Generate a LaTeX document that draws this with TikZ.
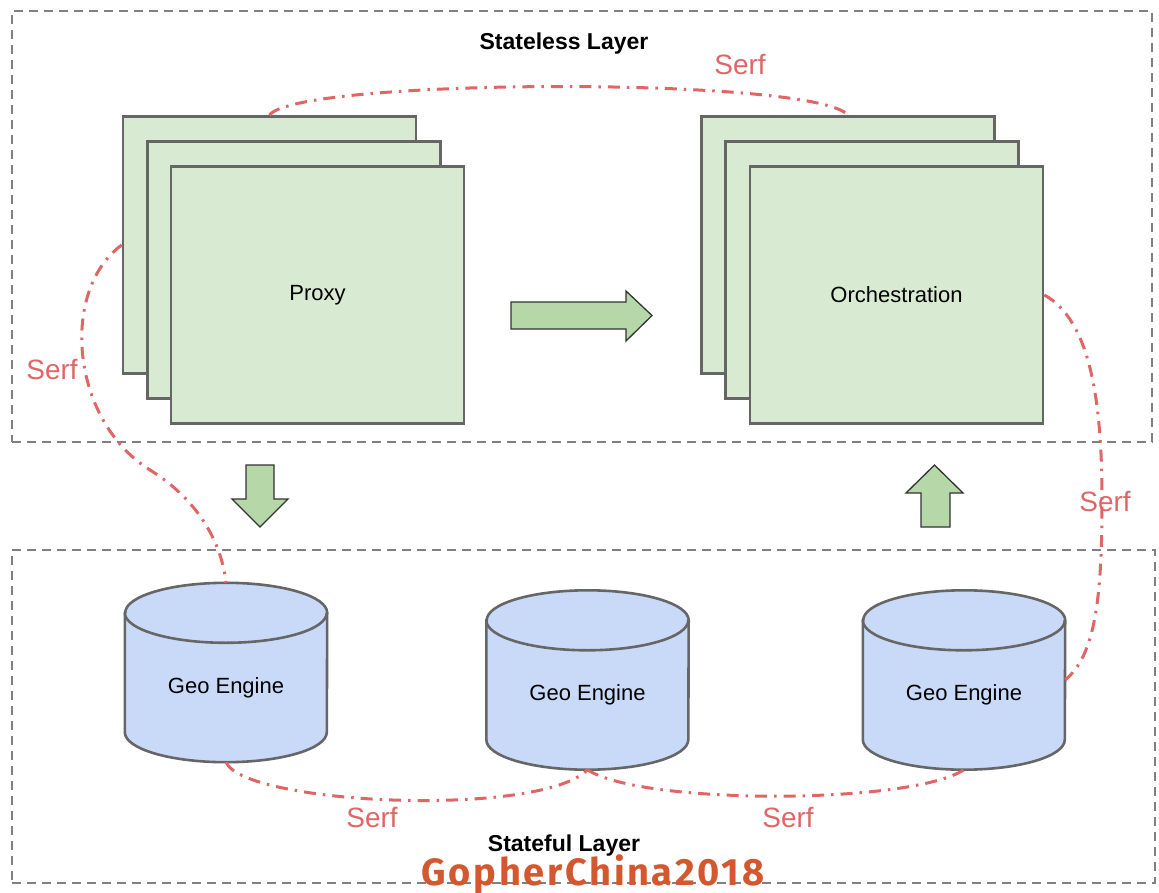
\documentclass[tikz,border=0pt]{standalone}
\usepackage{fontspec}
\setmainfont{Liberation Sans}
\newfontfamily\wmfont[LetterSpace=7]{Fira Sans}
\usepackage{tikz}
\usetikzlibrary{backgrounds}

\definecolor{sheetgreen}{HTML}{D9EAD3}
\definecolor{arrowgreen}{HTML}{B6D7A8}
\definecolor{geoblue}{HTML}{C9DAF8}
\definecolor{edgegray}{HTML}{666666}
\definecolor{layergray}{HTML}{808080}
\definecolor{serfred}{HTML}{E06666}
\definecolor{wmred}{HTML}{D3582F}

\tikzset{
  layer/.style={draw=layergray,line width=2.6pt,dash pattern=on 9pt off 6pt,inner sep=0pt},
  title/.style={anchor=base,font=\bfseries\fontsize{23}{27}\selectfont},
  sheet/.style={draw=edgegray,fill=sheetgreen,line width=2.6pt,minimum width=293pt,minimum height=257pt,inner sep=0pt},
  geobody/.style={minimum width=202pt,minimum height=149pt,inner sep=0pt},
  cyl/.style={draw=edgegray,fill=geoblue,line width=2.6pt},
  blockarrow/.style={draw=black!80,fill=arrowgreen,line width=1.3pt,line join=miter},
  serf/.style={serfred,line width=3pt,dash pattern=on 12pt off 7pt on 2.5pt off 7pt},
  serflabel/.style={text=serfred,font=\fontsize{28}{30}\selectfont}
}

% one database drum, text sits in the body
\newcommand\geocyl[3]{%
  \node[geobody] (#1) at (#2,#3) {Geo Engine};
  \begin{scope}[on background layer]
  \filldraw[cyl] (#1.north west) -- ([yshift=30pt]#1.south west)
    arc[start angle=180,end angle=360,x radius=101pt,y radius=30pt] -- (#1.north east)
    arc[start angle=0,end angle=180,x radius=101pt,y radius=30pt] -- cycle;
  \draw[cyl,fill=none] (#1.north west) arc[start angle=180,end angle=360,x radius=101pt,y radius=30pt];
  \end{scope}}

\begin{document}
\begin{tikzpicture}[x=1pt,y=-1pt,font=\fontsize{22}{26}\selectfont]
\useasboundingbox (0,0) rectangle (1159,893);
% the two layers
\node[layer,minimum width=1140pt,minimum height=431pt] (stateless) at (582,226.5) {};
\node[layer,minimum width=1143pt,minimum height=333pt] (stateful) at (583.5,716.5) {};
\node[title] (statelesstitle) at (564,50) {Stateless Layer};
\node[title] (statefultitle) at (564,851) {Stateful Layer};
% stacked instances
\foreach \n/\x/\y in {proxyback/269.5/245,proxymid/294/270,orchback/848/245,orchmid/872/270}
  \node[sheet] (\n) at (\x,\y) {};
\node[sheet] (proxy) at (317.5,295) {Proxy};
\node[sheet] (orch) at (896.5,295) {Orchestration};
% flow arrows
\draw[blockarrow] (511,302) -- (626,302) -- (626,291) -- (652,315.5) -- (626,341) -- (626,329) -- (511,329) -- cycle;
\draw[blockarrow] (246,465) -- (274,465) -- (274,499) -- (288,499) -- (260,527) -- (232,499) -- (246,499) -- cycle;
\draw[blockarrow] (921,527) -- (950,527) -- (950,493) -- (963,493) -- (934.5,465) -- (906,493) -- (921,493) -- cycle;
% geo engines
\geocyl{geoa}{226}{687.5}
\geocyl{geob}{587.5}{695}
\geocyl{geoc}{964}{695}
% gossip links
\draw[serf] (proxyback.north) .. controls (295,78) and (815,76) .. (orchback.north);
\draw[serf] (proxyback.west) .. controls (60,290) and (70,420) .. (150,470)
  .. controls (200,501) and (222,545) .. ([yshift=30pt]geoa.north);
\draw[serf] (orch.east) .. controls (1090,320) and (1102,400) .. (1102,500)
  .. controls (1102,600) and (1095,655) .. ([yshift=15pt]geoc.east);
\draw[serf] (geoa.south) .. controls (245,805) and (540,818) .. (geob.south);
\draw[serf] (geob.south) .. controls (640,805) and (910,805) .. (geoc.south);
\foreach \n/\x/\y in {serftop/740/65,serfleft/52/370,serfright/1105/502,serfbl/372/817,serfbr/788/817}
  \node[serflabel] (\n) at (\x,\y) {Serf};
\node[anchor=base,text=wmred,font=\wmfont\bfseries\fontsize{38}{40}\selectfont] (watermark) at (593,885) {GopherChina2018};
\end{tikzpicture}
\end{document}
